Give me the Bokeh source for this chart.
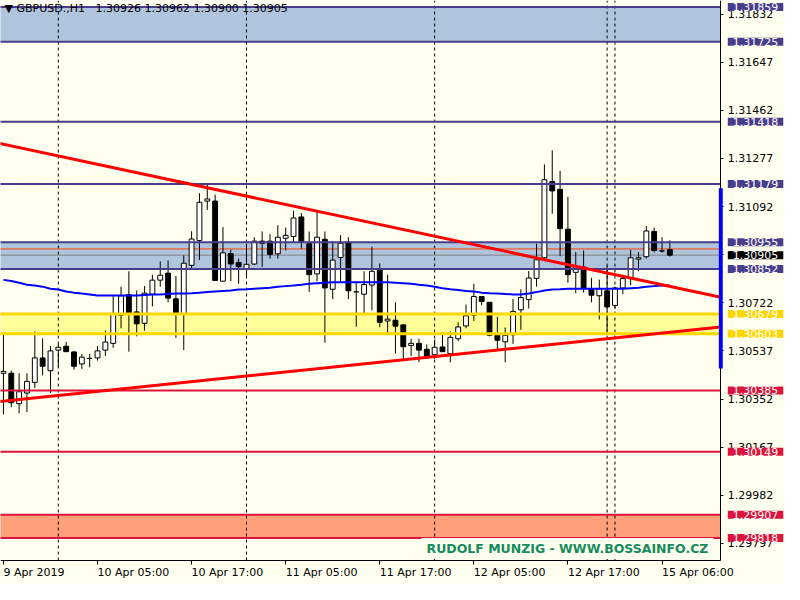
from bokeh.plotting import figure
from bokeh.models import (ColumnDataSource, FixedTicker, Label, BoxAnnotation,
                          PrintfTickFormatter, LinearAxis)
from bokeh.embed import file_html
from bokeh.resources import INLINE

symbol = "GBPUSD.,H1"
bar_index = list(range(-12, 74))
opens = [1.30451, 1.30451, 1.30334, 1.30375, 1.30416, 1.30510, 1.30461, 1.30540, 1.30555, 1.30533,
         1.30487, 1.30508, 1.30510, 1.30540, 1.30566, 1.30674, 1.30753, 1.30687, 1.30643, 1.30755,
         1.30809, 1.30836, 1.30737, 1.30678, 1.30866, 1.30961, 1.31113, 1.31113, 1.30805, 1.30911,
         1.30877, 1.30852, 1.30871, 1.30959, 1.30959, 1.30910, 1.30970, 1.30977, 1.31052, 1.30949,
         1.30833, 1.30966, 1.30774, 1.30896, 1.30955, 1.30764, 1.30755, 1.30790, 1.30849, 1.30652,
         1.30655, 1.30637, 1.30558, 1.30566, 1.30543, 1.30522, 1.30552, 1.30527, 1.30584, 1.30633,
         1.30674, 1.30746, 1.30724, 1.30597, 1.30572, 1.30599, 1.30695, 1.30734, 1.30816, 1.30895,
         1.31188, 1.31158, 1.31005, 1.30839, 1.30859, 1.30776, 1.30749, 1.30768, 1.30712, 1.30779,
         1.30815, 1.30890, 1.30899, 1.30996, 1.30921, 1.30926]
highs = [1.30601, 1.30462, 1.30451, 1.30451, 1.30612, 1.30585, 1.30556, 1.30563, 1.30571, 1.30537,
         1.30525, 1.30525, 1.30556, 1.30615, 1.30749, 1.30784, 1.30843, 1.30769, 1.30786, 1.30830,
         1.30881, 1.30885, 1.30825, 1.30904, 1.30997, 1.31143, 1.31179, 1.31138, 1.31013, 1.30926,
         1.30892, 1.30949, 1.30974, 1.30996, 1.30986, 1.31020, 1.31011, 1.31076, 1.31067, 1.30996,
         1.31076, 1.30996, 1.30959, 1.30982, 1.30974, 1.30805, 1.30843, 1.30938, 1.30874, 1.30830,
         1.30724, 1.30637, 1.30584, 1.30584, 1.30562, 1.30581, 1.30608, 1.30612, 1.30647, 1.30715,
         1.30795, 1.30746, 1.30724, 1.30668, 1.30627, 1.30737, 1.30774, 1.30844, 1.30949, 1.31254,
         1.31308, 1.31229, 1.31129, 1.30917, 1.30923, 1.30818, 1.30811, 1.30864, 1.30784, 1.30830,
         1.30926, 1.30917, 1.31017, 1.31011, 1.30974, 1.30962]
lows = [1.30293, 1.30320, 1.30297, 1.30302, 1.30394, 1.30443, 1.30375, 1.30474, 1.30533, 1.30465,
        1.30468, 1.30474, 1.30500, 1.30518, 1.30549, 1.30624, 1.30534, 1.30593, 1.30615, 1.30708,
        1.30784, 1.30724, 1.30587, 1.30540, 1.30851, 1.30886, 1.31079, 1.30808, 1.30805, 1.30805,
        1.30795, 1.30825, 1.30867, 1.30859, 1.30892, 1.30892, 1.30923, 1.30952, 1.30930, 1.30764,
        1.30805, 1.30568, 1.30736, 1.30799, 1.30736, 1.30630, 1.30676, 1.30693, 1.30628, 1.30602,
        1.30527, 1.30506, 1.30518, 1.30493, 1.30508, 1.30506, 1.30534, 1.30493, 1.30574, 1.30624,
        1.30652, 1.30712, 1.30593, 1.30540, 1.30493, 1.30564, 1.30618, 1.30700, 1.30784, 1.30881,
        1.31064, 1.30901, 1.30799, 1.30759, 1.30761, 1.30724, 1.30658, 1.30612, 1.30699, 1.30755,
        1.30789, 1.30843, 1.30892, 1.30915, 1.30915, 1.30900]
closes = [1.30458, 1.30338, 1.30380, 1.30420, 1.30510, 1.30478, 1.30537, 1.30551, 1.30534, 1.30478,
          1.30513, 1.30508, 1.30537, 1.30571, 1.30678, 1.30749, 1.30680, 1.30641, 1.30759, 1.30809,
          1.30828, 1.30740, 1.30684, 1.30874, 1.30967, 1.31108, 1.31121, 1.30808, 1.30914, 1.30871,
          1.30861, 1.30870, 1.30959, 1.30951, 1.30908, 1.30974, 1.30981, 1.31048, 1.30955, 1.30830,
          1.30974, 1.30779, 1.30886, 1.30951, 1.30768, 1.30764, 1.30792, 1.30843, 1.30647, 1.30659,
          1.30632, 1.30553, 1.30566, 1.30540, 1.30511, 1.30551, 1.30534, 1.30589, 1.30629, 1.30672,
          1.30746, 1.30727, 1.30597, 1.30578, 1.30597, 1.30689, 1.30742, 1.30817, 1.30887, 1.31195,
          1.31152, 1.31007, 1.30830, 1.30861, 1.30777, 1.30751, 1.30776, 1.30706, 1.30779, 1.30815,
          1.30895, 1.30895, 1.30998, 1.30923, 1.30921, 1.30905]
moving_avg = [1.30810, 1.30806, 1.30799, 1.30791, 1.30788, 1.30784, 1.30776, 1.30773, 1.30765, 1.30761,
              1.30758, 1.30754, 1.30750, 1.30750, 1.30750, 1.30750, 1.30750, 1.30750, 1.30752, 1.30754,
              1.30754, 1.30756, 1.30758, 1.30758, 1.30759, 1.30761, 1.30763, 1.30765, 1.30767, 1.30769,
              1.30773, 1.30774, 1.30776, 1.30778, 1.30780, 1.30784, 1.30786, 1.30788, 1.30791, 1.30795,
              1.30797, 1.30799, 1.30801, 1.30801, 1.30801, 1.30801, 1.30801, 1.30801, 1.30801, 1.30801,
              1.30799, 1.30797, 1.30795, 1.30791, 1.30788, 1.30784, 1.30778, 1.30774, 1.30771, 1.30767,
              1.30765, 1.30761, 1.30759, 1.30758, 1.30756, 1.30754, 1.30754, 1.30758, 1.30763, 1.30769,
              1.30773, 1.30774, 1.30776, 1.30776, 1.30776, 1.30776, 1.30776, 1.30776, 1.30776, 1.30776,
              1.30778, 1.30780, 1.30784, 1.30786, 1.30788, 1.30788]

time_tick_bars = [-12, 0, 12, 24, 36, 48, 60, 72]
time_tick_labels = ["9 Apr 2019", "10 Apr 05:00", "10 Apr 17:00", "11 Apr 05:00",
                    "11 Apr 17:00", "12 Apr 05:00", "12 Apr 17:00", "15 Apr 06:00"]
separator_bars = [-5, 19, 43, 65, 66]
price_ticks = [1.31832, 1.31647, 1.31462, 1.31277, 1.31092, 1.30907,
               1.30722, 1.30537, 1.30352, 1.30167, 1.29982, 1.29797]

zone_bottom = [1.31725, 1.30852, 1.30603, 1.29818]
zone_top = [1.31859, 1.30955, 1.30679, 1.29907]
zone_fill = ["#B0C4DE", "#B0C4DE", "#FFFF99", "#FFA07A"]

hline_prices = [1.31859, 1.31725, 1.31418, 1.31179, 1.30955, 1.30852,
                1.30679, 1.30603, 1.30385, 1.30149, 1.29907, 1.29818]
hline_colors = ["#483D8B"] * 6 + ["#FFD700"] * 2 + ["#DC143C"] * 4
hline_widths = [2] * 6 + [3] * 2 + [2] * 4
ask_price = 1.30929

trend_bars = [-13, 79.5]
trend_down = [1.31338, 1.30743]
trend_up = [1.30341, 1.30629]

axis_bar_low, axis_bar_high = 1.30469, 1.31162

IVORY = "#FFFFF0"
FONT = "DejaVu Sans"

# view: chart area plus room for the price / time scales
x_start = bar_index[0] - 0.375
chart_right = bar_index[-1] + 6.5
x_full_end = chart_right + 8.125
y_hi = 1.31884
chart_bottom = 1.29731
y_full_lo = 1.29639

p = figure(width=784, height=584, x_range=(x_start, x_full_end), y_range=(y_full_lo, y_hi),
           x_axis_location=None, y_axis_location=None,
           output_backend="svg", toolbar_location=None, min_border=0,
           background_fill_color=IVORY, border_fill_color=IVORY, outline_line_color=None)
p.grid.visible = False

# zones (background rectangles)
p.quad(left=x_start - 2, right=chart_right, bottom=zone_bottom, top=zone_top,
       fill_color=zone_fill, line_color=None)

# period separators
p.segment(x0=separator_bars, x1=separator_bars, y0=chart_bottom, y1=y_hi,
          line_color="black", line_width=1, line_dash="3 3")

# bid / ask lines
p.segment(x0=x_start - 2, x1=chart_right, y0=ask_price, y1=ask_price, line_color="#FF4500", line_width=1)
p.segment(x0=x_start - 2, x1=chart_right, y0=closes[-1], y1=closes[-1], line_color="#808080", line_width=1)

# candles
src = ColumnDataSource(dict(
    x=bar_index, o=opens, h=highs, l=lows, c=closes,
    top=[max(o, c) for o, c in zip(opens, closes)],
    bottom=[min(o, c) for o, c in zip(opens, closes)],
    color=["white" if c >= o else "black" for o, c in zip(opens, closes)],
))
p.segment(x0="x", x1="x", y0="l", y1="h", line_color="black", line_width=1, source=src)
p.vbar(x="x", width=0.62, top="top", bottom="bottom", fill_color="color",
       line_color="black", line_width=1, source=src)

# horizontal lines
p.segment(x0=x_start - 2, x1=chart_right, y0=hline_prices, y1=hline_prices,
          line_color=hline_colors, line_width=hline_widths)

# moving average
p.line(bar_index, moving_avg, line_color="#0000FF", line_width=2)

# trend lines
p.line(trend_bars, trend_down, line_color="#FF0000", line_width=3)
p.line(trend_bars, trend_up, line_color="#FF0000", line_width=3)

# axes placed at the edges of the chart area
xa = LinearAxis(fixed_location=chart_bottom, bounds=(x_start, chart_right))
xa.ticker = FixedTicker(ticks=time_tick_bars, minor_ticks=[])
xa.major_label_overrides = {b: t for b, t in zip(time_tick_bars, time_tick_labels)}
xa.major_label_orientation = -1e-9
xa.major_tick_in = 0
xa.major_tick_out = 4
xa.minor_tick_out = 0
xa.major_label_standoff = 8
p.add_layout(xa, "below")

ya = LinearAxis(fixed_location=chart_right, bounds=(chart_bottom, y_hi))
ya.ticker = FixedTicker(ticks=price_ticks, minor_ticks=[])
ya.formatter = PrintfTickFormatter(format="%.5f")
ya.major_tick_in = 0
ya.major_tick_out = 3
ya.minor_tick_out = 0
ya.major_label_standoff = 4
p.add_layout(ya, "right")

for ax in (xa, ya):
    ax.axis_line_color = "black"
    ax.major_tick_line_color = "black"
    ax.major_label_text_font = FONT
    ax.major_label_text_font_size = "11px"
    ax.major_label_text_color = "black"

# blue bar on the price scale
p.add_layout(BoxAnnotation(left=chart_right - 0.25, right=chart_right + 0.25,
                           bottom=axis_bar_low, top=axis_bar_high, level="overlay",
                           fill_color="#0000FF", fill_alpha=1.0, line_alpha=0))

# price labels on the right scale
label_prices = hline_prices + [closes[-1]]
label_colors = hline_colors + ["#000000"]
for price, col in zip(label_prices, label_colors):
    p.add_layout(Label(x=chart_right, y=price, x_offset=7, text=f"{price:.5f}", text_color="white",
                       text_font=FONT, text_font_size="11px", text_baseline="middle", text_align="left",
                       background_fill_color=col, background_fill_alpha=1.0, level="overlay",
                       padding=dict(left=5, right=5, top=0, bottom=0)))

# title
title = f"\u25BC {symbol}\u00a0\u00a0 {opens[-1]:.5f} {highs[-1]:.5f} {lows[-1]:.5f} {closes[-1]:.5f}"
p.add_layout(Label(x=4, y=576, x_units="screen", y_units="screen", text=title, text_color="black",
                   text_font=FONT, text_font_size="11px", text_baseline="middle", text_align="left"))

# watermark
p.add_layout(Label(x=421, y=36, x_units="screen", y_units="screen",
                   text="RUDOLF MUNZIG - WWW.BOSSAINFO.CZ", text_color="#168B5E",
                   text_font=FONT, text_font_style="bold", text_font_size="12.5px",
                   text_baseline="middle", text_align="left", level="overlay",
                   background_fill_color=IVORY, background_fill_alpha=1.0,
                   padding=dict(left=5, right=5, top=3, bottom=3)))

open("out.html", "w").write(file_html(p, INLINE))
